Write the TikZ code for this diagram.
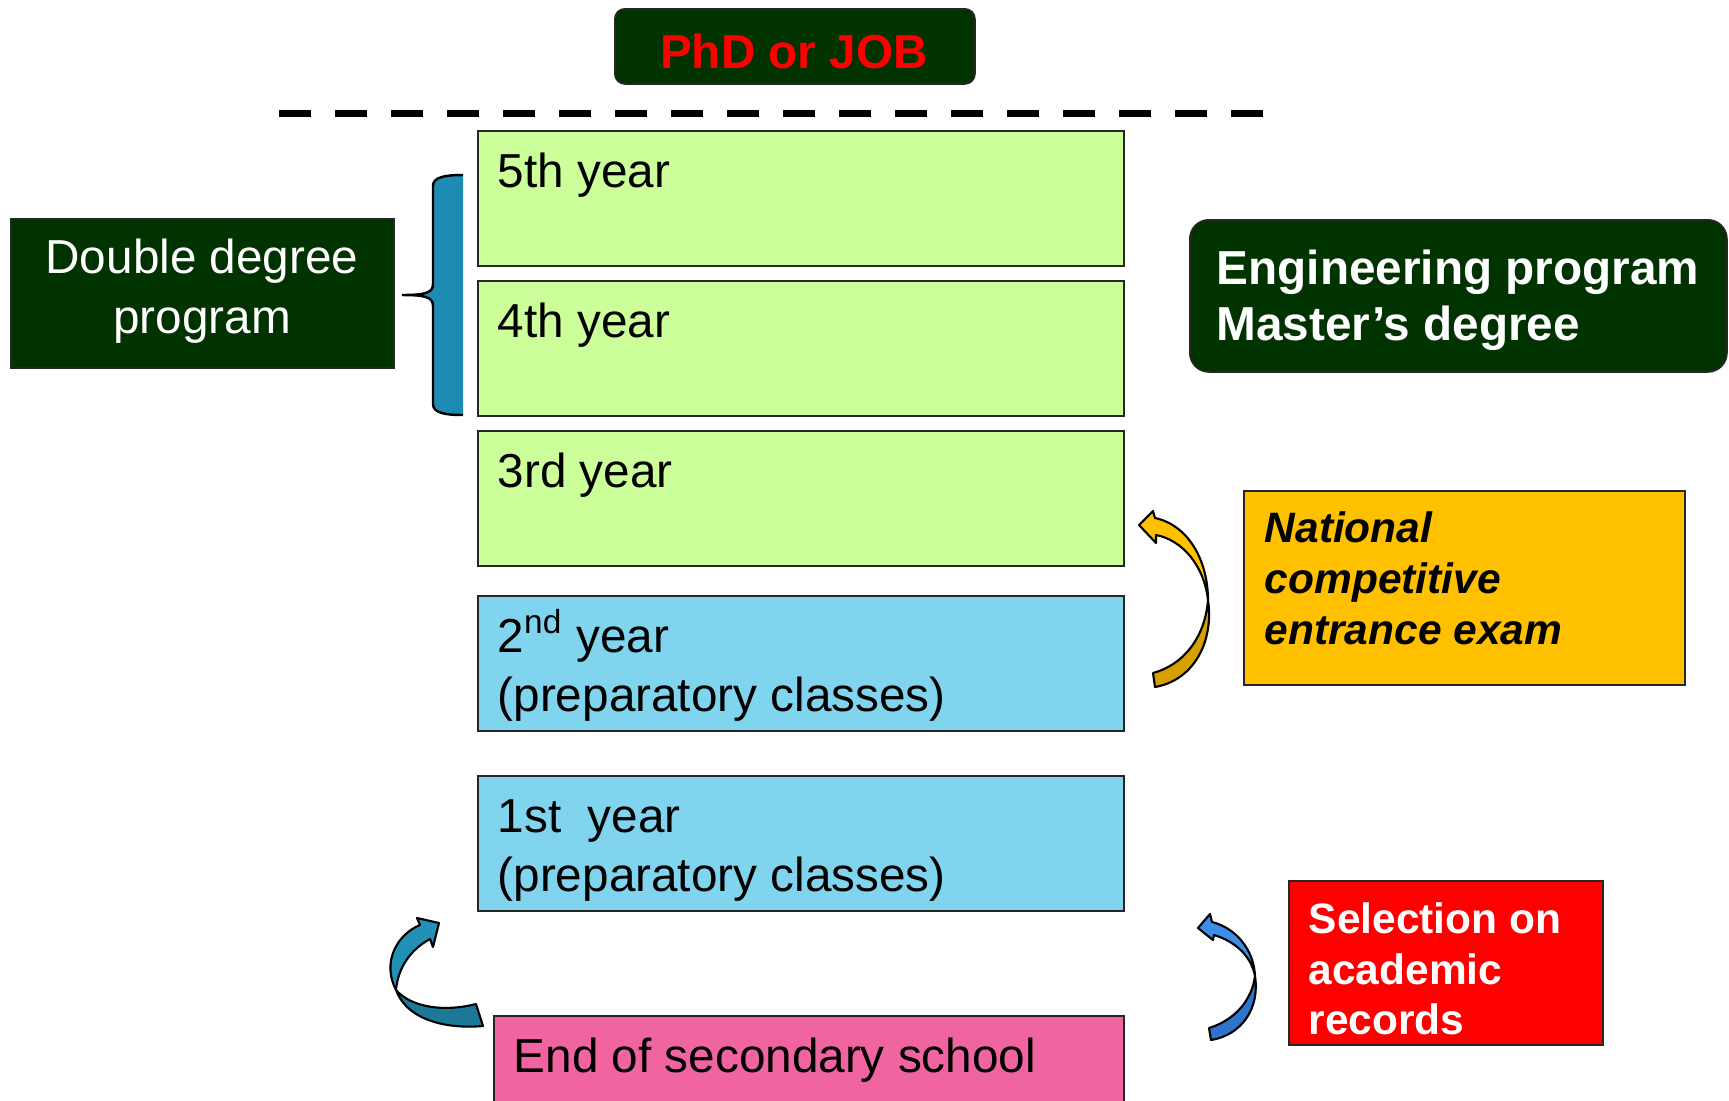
\documentclass[tikz,border=0pt]{standalone}
\usepackage{fontspec}
\setmainfont{Liberation Sans}
\definecolor{dkgreen}{RGB}{0,51,0}
\definecolor{ltgreen}{RGB}{204,255,153}
\definecolor{ltblue}{RGB}{128,212,238}
\definecolor{pinkbox}{RGB}{240,100,160}
\definecolor{orangebox}{RGB}{255,192,0}
\definecolor{bracecol}{RGB}{30,140,178}
\definecolor{yelA}{RGB}{255,192,0}
\definecolor{yelB}{RGB}{214,160,0}
\definecolor{tealA}{RGB}{34,145,181}
\definecolor{tealB}{RGB}{28,122,152}
\definecolor{bluA}{RGB}{60,143,232}
\definecolor{bluB}{RGB}{47,115,204}
\begin{document}
\begin{tikzpicture}[x=0.1mm,y=-0.1mm,
  box/.style={draw=black!85, line width=0.5pt, inner sep=0pt, anchor=north west},
  yearbox/.style={box, minimum width=64.6mm, minimum height=13.5mm},
  bigtxt/.style={font=\fontsize{13.57}{16}\selectfont, inner sep=0pt, anchor=base west},
  smalltxt/.style={font=\fontsize{12.09}{14}\selectfont\bfseries, inner sep=0pt, anchor=base west},
  arrowshape/.style={draw=black, line width=0.6pt, line join=round}
]
\useasboundingbox (0,0) rectangle (1729,1101);
\clip (0,0) rectangle (1729,1101);

% top box
\node[box, fill=dkgreen, rounded corners=1mm, minimum width=36mm, minimum height=7.5mm] (phd) at (614,8) {};
\node[font=\fontsize{13.57}{16}\selectfont\bfseries, text=red, inner sep=0pt, anchor=base] (phdt) at (794,68) {PhD or JOB};

% dashed line
\coordinate (dl1) at (279,113.5);
\coordinate (dl2) at (1263,113.5);
\draw[line width=2pt, dash pattern=on 3.2mm off 2.4mm] (dl1) -- (dl2);

% year boxes
\node[yearbox, fill=ltgreen] (y5) at (477,130) {};
\node[yearbox, fill=ltgreen] (y4) at (477,280) {};
\node[yearbox, fill=ltgreen] (y3) at (477,430) {};
\node[yearbox, fill=ltblue] (y2) at (477,595) {};
\node[yearbox, fill=ltblue] (y1) at (477,775) {};
\node[box, fill=pinkbox, minimum width=63mm, minimum height=10mm] (end) at (493,1015) {};

\node[bigtxt] (y5t) at (497,187) {5th year};
\node[bigtxt] (y4t) at (497,337) {4th year};
\node[bigtxt] (y3t) at (497,487) {3rd year};
\node[bigtxt] (y2t) at (497,652) {2\textsuperscript{nd} year};
\node[bigtxt] (y2s) at (497,711) {(preparatory classes)};
\node[bigtxt] (y1t) at (497,832) {1st\ \ year};
\node[bigtxt] (y1s) at (497,891) {(preparatory classes)};
\node[bigtxt] (endt) at (513,1072) {End of secondary school};

% double degree
\node[box, fill=dkgreen, minimum width=38.3mm, minimum height=14.9mm] (dd) at (10,218) {};
\node[bigtxt, anchor=base, text=white] (dd1) at (202,273) {Double degree};
\node[bigtxt, anchor=base, text=white] (dd2) at (202,333) {program};

% brace
\coordinate (brT) at (463,175);
\coordinate (brB) at (463,415);
\coordinate (brTip) at (402,295);
\fill[bracecol] (brT) .. controls (445,175) and (433,177) .. (433,186) -- (433,284)
  .. controls (433,293) and (425,295) .. (brTip) .. controls (425,295) and (433,297) .. (433,306)
  -- (433,404) .. controls (433,413) and (445,415) .. (brB) -- cycle;
\draw[line width=0.7pt] (brT) .. controls (445,175) and (433,177) .. (433,186) -- (433,284)
  .. controls (433,293) and (425,295) .. (brTip) .. controls (425,295) and (433,297) .. (433,306)
  -- (433,404) .. controls (433,413) and (445,415) .. (brB);

% engineering
\node[box, fill=dkgreen, rounded corners=1.9mm, minimum width=53.7mm, minimum height=15.2mm] (eng) at (1189,219) {};
\node[bigtxt, font=\fontsize{13.57}{16}\selectfont\bfseries, text=white] (eng1) at (1216,284) {Engineering program};
\node[bigtxt, font=\fontsize{13.57}{16}\selectfont\bfseries, text=white] (eng2) at (1216,340) {Master’s degree};

% national
\node[box, fill=orangebox, minimum width=44.1mm, minimum height=19.4mm] (nat) at (1243,490) {};
\node[smalltxt, font=\fontsize{12.09}{14}\selectfont\bfseries\itshape] (nat1) at (1264,542) {National};
\node[smalltxt, font=\fontsize{12.09}{14}\selectfont\bfseries\itshape] (nat2) at (1264,593) {competitive};
\node[smalltxt, font=\fontsize{12.09}{14}\selectfont\bfseries\itshape] (nat3) at (1264,644) {entrance exam};

% selection
\node[box, fill=red, minimum width=31.4mm, minimum height=16.4mm] (sel) at (1288,880) {};
\node[smalltxt, text=white] (sel1) at (1308,933) {Selection on};
\node[smalltxt, text=white] (sel2) at (1308,984) {academic};
\node[smalltxt, text=white] (sel3) at (1308,1034) {records};

% yellow curved arrow
\path[arrowshape, fill=yelB] (1153,673) .. controls (1183,665) and (1205,638) .. (1208,600)
  .. controls (1214,640) and (1195,680) .. (1155,687) -- cycle;
\path[arrowshape, fill=yelA] (1208,600) .. controls (1208,560) and (1188,525) .. (1155,518)
  -- (1153,511) -- (1139,525) -- (1156,543) -- (1156,535)
  .. controls (1182,540) and (1204,565) .. (1208,600) -- cycle;

% teal curved arrow
\path[arrowshape, fill=tealB] (476,1004) .. controls (445,1012) and (412,1008) .. (396,990)
  .. controls (408,1022) and (450,1029) .. (483,1026) -- cycle;
\path[arrowshape, fill=tealA] (396,990) .. controls (382,963) and (396,935) .. (420,925)
  -- (417,918) -- (439,923) -- (433,947) -- (430,939)
  .. controls (410,950) and (398,968) .. (396,990) -- cycle;

% blue curved arrow
\path[arrowshape, fill=bluB] (1209,1028) .. controls (1235,1020) and (1252,1000) .. (1255,976)
  .. controls (1260,1008) and (1242,1035) .. (1211,1040) -- cycle;
\path[arrowshape, fill=bluA] (1255,976) .. controls (1254,950) and (1236,928) .. (1212,922)
  -- (1210,914) -- (1198,928) -- (1213,940) -- (1214,935)
  .. controls (1234,941) and (1251,955) .. (1255,976) -- cycle;
\end{tikzpicture}
\end{document}
